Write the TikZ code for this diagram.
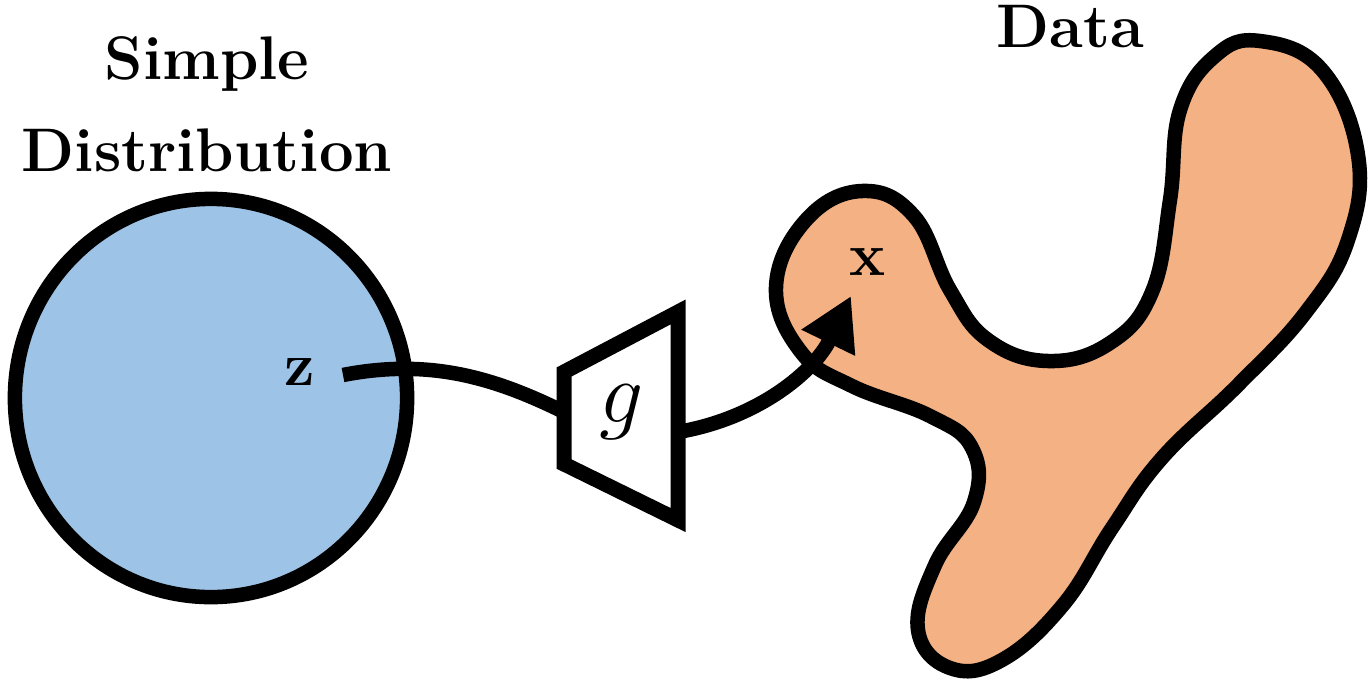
\documentclass[tikz,border=0pt]{standalone}
\usetikzlibrary{arrows.meta,shapes.geometric}
\definecolor{simpleblue}{HTML}{9DC3E6}
\definecolor{dataorange}{HTML}{F4B183}
\tikzset{
  thick line/.style={line width=0.145cm},
  title/.style={font=\fontsize{17.5}{26.5}\selectfont\bfseries, inner sep=0pt},
  varlabel/.style={font=\fontsize{19}{19}\selectfont, inner sep=0pt},
}
\begin{document}
\begin{tikzpicture}[x=0.01cm,y=-0.01cm]
\useasboundingbox (0,0) rectangle (1369,681);
% titles
\node[title, anchor=base] (simple) at (207,79) {Simple};
\node[title, anchor=base] (distr) at (207,171) {Distribution};
\node[title, anchor=base] (data) at (1070,47) {Data};
% simple distribution
\node[draw, thick line, fill=simpleblue, ellipse, minimum width=3.92cm, minimum height=3.98cm, inner sep=0pt] (dist) at (211,398) {};
% data blob
\draw[thick line, fill=dataorange, line join=round] plot[smooth cycle, tension=0.7] coordinates {
 (776,287) (806,220) (862,191) (914,216) (950,290) (988,340) (1048,361)
 (1110,343) (1152,292) (1170,200) (1180,110) (1215,56) (1260,41) (1322,70)
 (1358,155) (1348,240) (1306,312) (1238,385) (1162,458) (1112,528) (1063,605)
 (1002,660) (950,668) (918,630) (935,565) (974,502) (972,448) (930,416)
 (852,386) (801,352)};
% generator
\draw[line width=0.15cm, fill=white, line join=miter] (564,372) -- (678,312) -- (678,520) -- (564,464) -- cycle;
\node[inner sep=0pt, font=\fontsize{28}{28}\selectfont] (g) at (622,412) {$g$};
\coordinate (gin) at (564,412);
\coordinate (gout) at (678,432);
% labels
\node[varlabel] (z) at (300,372) {$\mathbf{z}$};
\node[varlabel] (x) at (868,262) {$\mathbf{x}$};
\coordinate (zs) at (343,375);
\coordinate (xtip) at (851,296);
% connectors
\draw[thick line] (zs) .. controls (430,358) and (495,378) .. (gin);
\draw[thick line, -{Triangle[length=0.52cm,width=0.56cm]}] (gout) .. controls (760,418) and (815,370) .. (xtip);
\end{tikzpicture}
\end{document}
